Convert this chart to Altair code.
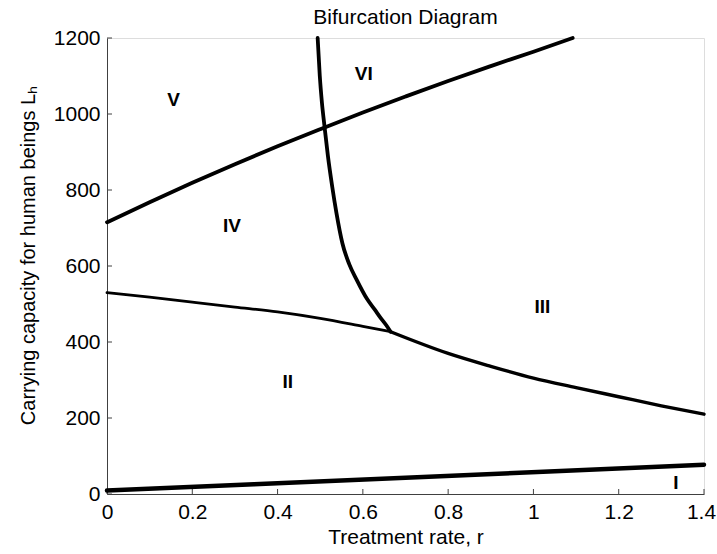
import altair as alt
import pandas as pd

# ---- data ----
low_r = [0.0, 0.7, 1.4]
low_L = [9, 43, 77]

up_r = [0.0, 0.1, 0.2, 0.3, 0.4, 0.5, 0.6, 0.7, 0.8, 0.9, 1.0, 1.092]
up_L = [715, 768, 819, 868, 915, 960, 1004, 1046, 1087, 1126, 1164, 1200]

midl_r = [0.0, 0.1, 0.2, 0.3, 0.4, 0.5, 0.6, 0.665]
midl_L = [530, 518, 505, 492, 479, 462, 441, 427]

midr_r = [0.665, 0.8, 0.9, 1.0, 1.1, 1.2, 1.3, 1.4]
midr_L = [427, 370, 336, 305, 280, 256, 232, 210]

vert_r = [0.494, 0.499, 0.504, 0.510, 0.518, 0.528, 0.538, 0.552, 0.568,
          0.585, 0.610, 0.628, 0.642, 0.655, 0.665]
vert_L = [1200, 1100, 1030, 968, 890, 810, 740, 660, 605, 565, 513, 485,
          463, 444, 427]

lab_text = ["I", "II", "III", "IV", "V", "VI"]
lab_r = [1.334, 0.424, 1.021, 0.293, 0.156, 0.602]
lab_L = [30, 296, 493, 704, 1038, 1104]

xticks = [0, 0.2, 0.4, 0.6, 0.8, 1.0, 1.2, 1.4]
yticks = [0, 200, 400, 600, 800, 1000, 1200]

W, H = 597, 456
FONT = "Liberation Sans"
FS = 21

xs = alt.Scale(domain=[0, 1.4], nice=False, zero=False)
ys = alt.Scale(domain=[0, 1200], nice=False, zero=False)

xaxis = alt.Axis(values=xticks, title="Treatment rate, r", grid=False, ticks=False,
                 labelFontSize=FS, labelFont=FONT, labelColor="black",
                 labelPadding=7, domainColor="#404040", labelFlush=False,
                 labelOffset={"condition": {"test": "datum.value >= 1.39", "value": -3}, "value": 0},
                 titleFontSize=FS, titleFont=FONT, titleFontWeight="normal",
                 titleColor="black", titlePadding=4,
                 labelExpr="datum.value == 0 ? '0' : datum.value == 1 ? '1' : format(datum.value, '.1f')")
yaxis = alt.Axis(values=yticks, title="Carrying capacity for human beings Lₕ", grid=False,
                 ticks=False, labelFontSize=FS, labelFont=FONT, labelColor="black",
                 labelPadding=7, domainColor="#404040", labelFlush=False, format="d",
                 titleFontSize=20, titleFont=FONT, titleFontWeight="normal",
                 titleColor="black", titlePadding=15, titleY=217)


def line(r, L, sw):
    df = pd.DataFrame({"r": r, "L": L, "o": range(len(r))})
    return alt.Chart(df).mark_line(color="black", strokeWidth=sw, strokeCap="round",
                                   interpolate="monotone").encode(
        x=alt.X("r:Q", scale=xs, axis=xaxis),
        y=alt.Y("L:Q", scale=ys, axis=yaxis),
        order="o:Q",
    )


xt = alt.Chart(pd.DataFrame({"r": xticks})).mark_rule(color="#404040", strokeWidth=1).encode(
    x=alt.X("r:Q", scale=xs), y=alt.value(H), y2=alt.value(H - 5))
yt = alt.Chart(pd.DataFrame({"L": yticks})).mark_rule(color="#404040", strokeWidth=1).encode(
    y=alt.Y("L:Q", scale=ys), x=alt.value(0), x2=alt.value(5))

labels = alt.Chart(pd.DataFrame({"r": lab_r, "L": lab_L, "t": lab_text})).mark_text(
    font=FONT, fontSize=19, fontWeight="bold", color="black", align="center", baseline="middle"
).encode(x=alt.X("r:Q", scale=xs), y=alt.Y("L:Q", scale=ys), text="t:N")

chart = alt.layer(
    xt, yt,
    line(low_r, low_L, 4.5),
    line(up_r, up_L, 3.8),
    line(midl_r, midl_L, 2.8),
    line(midr_r, midr_L, 3.4),
    line(vert_r, vert_L, 3.8),
    labels,
).properties(
    width=W, height=H,
    title=alt.TitleParams("Bifurcation Diagram", font=FONT, fontSize=FS, fontWeight="normal",
                          color="black", anchor="middle", offset=-1, frame="group"),
    autosize=alt.AutoSizeParams(type="none"),
    padding={"left": 107, "top": 38, "right": 13, "bottom": 60},
).configure_view(stroke=None).configure(background="white")

chart.save("out.html", embed_options={"renderer": "svg", "actions": False})
